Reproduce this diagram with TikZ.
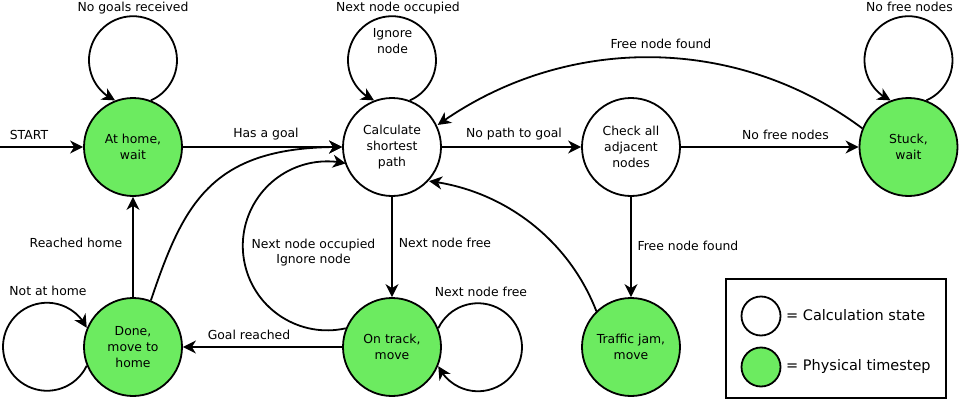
\documentclass[tikz,border=0pt]{standalone}
\usepackage{fontspec}
\setmainfont{DejaVu Sans}
\usetikzlibrary{arrows.meta,bending}
\definecolor{stategreen}{RGB}{108,235,96}
\begin{document}
\begin{tikzpicture}[x=1pt,y=1pt,
  st/.style={circle, draw, line width=1.8pt, minimum size=98pt, inner sep=0pt, align=center, font=\fontsize{12.4}{16}\selectfont},
  calcst/.style={st, fill=white},
  physst/.style={st, fill=stategreen},
  lbl/.style={anchor=base, inner sep=0pt, font=\fontsize{12.4}{15}\selectfont},
  arr/.style={line width=1.8pt, -{Stealth[length=13pt,width=13pt,inset=4pt]}},
  legcirc/.style={circle, draw, line width=1.8pt, minimum size=39pt, inner sep=0pt},
  legtxt/.style={anchor=base west, inner sep=0pt, font=\fontsize{14.5}{17}\selectfont},
]
\useasboundingbox (0,0) rectangle (964,400);
% states
\node[physst] (home) at (133,253) {At home,\\wait};
\node[calcst] (calc) at (392,253) {Calculate\\shortest\\path};
\node[calcst] (check) at (631,253) {Check all\\adjacent\\nodes};
\node[physst] (stuck) at (908.5,253) {Stuck,\\wait};
\node[physst] (done) at (133,53) {Done,\\move to\\home};
\node[physst] (ontrack) at (392,53) {On track,\\move};
\node[physst] (jam) at (631,53) {Traffic jam,\\move};
\coordinate (start) at (0,253);

% straight transitions
\draw[arr] (start) -- (home);
\draw[arr] (home) -- (calc);
\draw[arr] (calc) -- (check);
\draw[arr] (check) -- (stuck);
\draw[arr] (calc) -- (ontrack);
\draw[arr] (check) -- (jam);
\draw[arr] (ontrack) -- (done);
\draw[arr] (done) -- (home);

% curved transitions
\draw[arr] (stuck.158) arc[start angle=53.3, end angle=125.8, radius=359];
\draw[arr] (jam.134) arc[start angle=21.2, end angle=83.1, radius=206];
\draw[arr] (done.69) .. controls (184,198) and (212,254) .. (calc.west);
\draw[arr] (ontrack.158) arc[start angle=-77.4, end angle=-282.6, radius=84.5];

% self loops
\draw[arr] (home.69) arc[start angle=294, end angle=606, radius=44];
\draw[arr] (calc.69) arc[start angle=294, end angle=606, radius=44];
\draw[arr] (stuck.69) arc[start angle=294, end angle=606, radius=44];
\draw[arr] (done.202.2) arc[start angle=-25.5, end angle=-334.5, radius=44];
\draw[arr] (ontrack.22.2) arc[start angle=154.5, end angle=-154.5, radius=44];

% labels
\node[lbl] (lstart) at (29,260.7) {START};
\node[lbl] (lhas) at (266,262.5) {Has a goal};
\node[lbl] (lnopath) at (514,263) {No path to goal};
\node[lbl] (lnofree) at (785.5,260.7) {No free nodes};
\node[lbl] (lfreetop) at (661,351) {Free node found};
\node[lbl] (lnextfree) at (445,152.3) {Next node free};
\node[lbl] (lfreeright) at (688,149.3) {Free node found};
\node[lbl] (lgoal) at (249,60.7) {Goal reached};
\node[lbl] (lreached) at (76,152.3) {Reached home};
\node[lbl] (lnotathome) at (48,105) {Not at home};
\node[lbl] (lnextfreeloop) at (481,103.3) {Next node free};
\node[lbl] (loccupied1) at (313.5,151.7) {Next node occupied};
\node[lbl] (loccupied2) at (313.5,136.7) {Ignore node};
\node[lbl] (lnogoals) at (133,388) {No goals received};
\node[lbl] (loccupiedtop) at (398,388) {Next node occupied};
\node[lbl] (lnofreetop) at (909.5,388) {No free nodes};
\node[lbl] (lignore1) at (392.5,362.3) {Ignore};
\node[lbl] (lignore2) at (392.5,346.7) {node};

% legend
\node[draw, line width=1.8pt, minimum width=220pt, minimum height=119pt, inner sep=0pt] (legend) at (836,61.5) {};
\node[legcirc, fill=white] (legcalc) at (761,84) {};
\node[legcirc, fill=stategreen] (legphys) at (761,33) {};
\node[legtxt] (legcalctxt) at (786,80) {= Calculation state};
\node[legtxt] (legphystxt) at (786,30) {= Physical timestep};
\end{tikzpicture}
\end{document}
